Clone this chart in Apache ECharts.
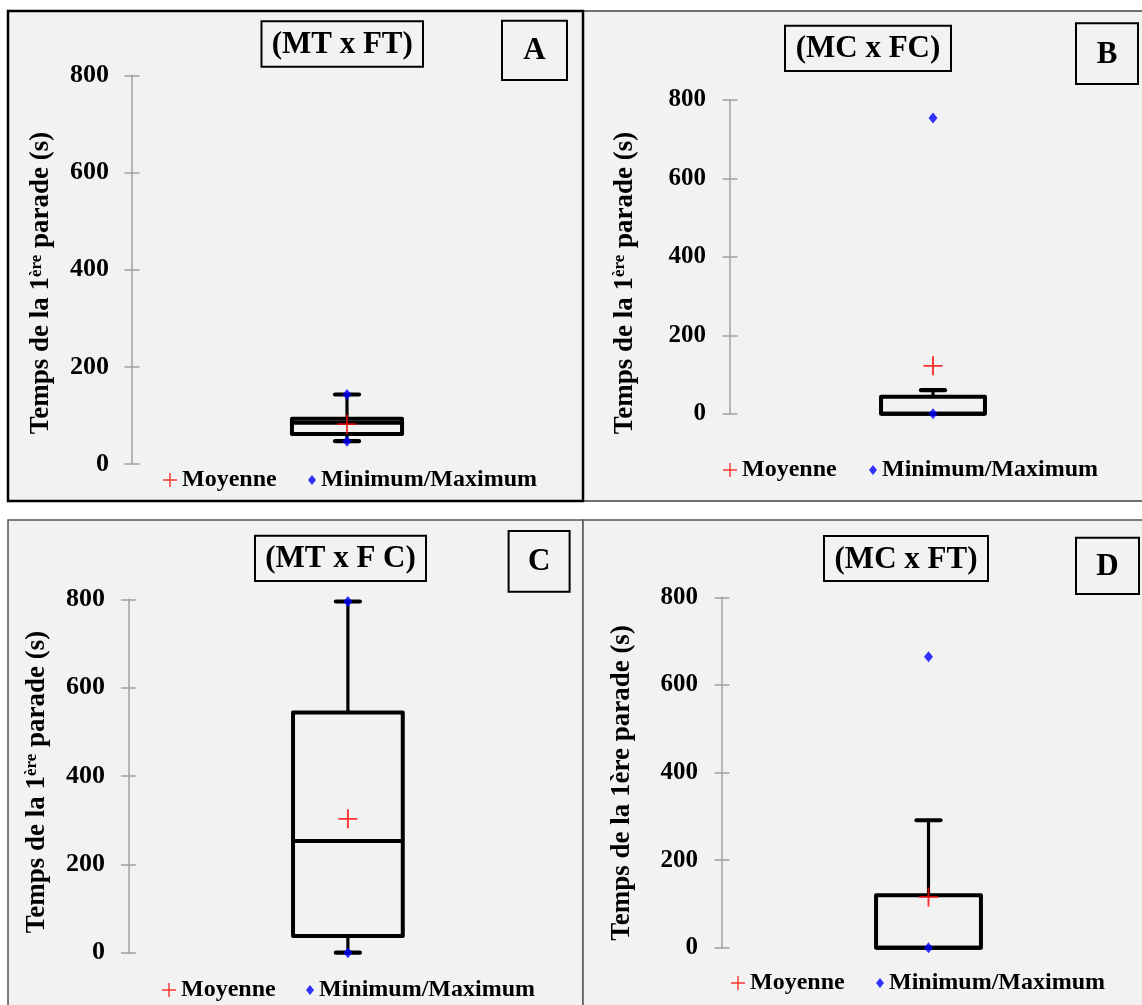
<!DOCTYPE html>
<html><head><meta charset="utf-8">
<script src="https://cdn.jsdelivr.net/npm/echarts@6/dist/echarts.min.js"></script>
<style>html,body{margin:0;padding:0;background:#fff}#c{width:1142px;height:1005px}</style>
</head><body><div id="c"></div>
<script>
// ---------- data ----------
const panelLetters = ['A', 'B', 'C', 'D'];
const panelTitles = ['(MT x FT)', '(MC x FC)', '(MT x F C)', '(MC x FT)'];
const yTickValues = [0, 200, 400, 600, 800];
// [lower whisker, Q1, median, Q3, upper whisker]
const boxA = [47, 62, 85, 93, 143];
const boxB = [0, 0, 0, 43, 60];
const boxC = [0, 38, 253, 544, 795];
const boxD = [0, 0, 0, 120, 291];
const meanA = 82, meanB = 122, meanC = 303, meanD = 116;
const minMaxA = [47, 143];
const minMaxB = [0, 754];
const minMaxC = [0, 795];
const minMaxD = [0, 664];
const legendNames = ['Moyenne', 'Minimum/Maximum'];
const axisTitleSup = 'Temps de la 1{sup|ère} parade (s)';
const axisTitlePlain = 'Temps de la 1ère parade (s)';

// ---------- layout / style ----------
const SERIF = '"Liberation Serif", "Times New Roman", serif';
const boxes = [boxA, boxB, boxC, boxD];
const means = [meanA, meanB, meanC, meanD];
const minMaxes = [minMaxA, minMaxB, minMaxC, minMaxD];
const P = [
  {grid: {left: 132, top: 75.3, width: 430, height: 388.7}, lab: 26, margin: 23, boxFrac: 0.256,
   name: {x: 41.5, y: 283, text: axisTitleSup},
   title: [261.5, 21.3, 161.5, 45.4], letter: [502, 20.7, 65, 59.3],
   leg1: [163, 468], leg2: [308, 468]},
  {grid: {left: 730, top: 100, width: 406, height: 313.7}, lab: 25, margin: 24, boxFrac: 0.256,
   name: {x: 625, y: 283, text: axisTitleSup},
   title: [785, 25.7, 166, 45.3], letter: [1076, 23.3, 62, 60.7],
   leg1: [723, 458], leg2: [869, 458]},
  {grid: {left: 128.4, top: 599.3, width: 439, height: 353.4}, lab: 26, margin: 23.5, boxFrac: 0.25,
   name: {x: 37, y: 782, text: axisTitleSup},
   title: [255, 535.7, 171, 45.3], letter: [508.6, 531, 61, 60.7],
   leg1: [162, 978], leg2: [306, 978]},
  {grid: {left: 722, top: 597.3, width: 413, height: 350.4}, lab: 25, margin: 24, boxFrac: 0.254,
   name: {x: 622, y: 783, text: axisTitlePlain},
   title: [824, 536, 164, 45], letter: [1076, 537.7, 63, 56.3],
   leg1: [731, 971], leg2: [876, 971]}
];
const PLUS = 'path://M9,0H11V9H20V11H11V20H9V11H0V9H9Z';

function renderBox(params, api) {
  const x = api.value(0);
  const lw = api.coord([x, api.value(1)]);
  const q1 = api.coord([x, api.value(2)]);
  const md = api.coord([x, api.value(3)]);
  const q3 = api.coord([x, api.value(4)]);
  const hw = api.coord([x, api.value(5)]);
  const frac = P[params.seriesIndex / 3 | 0].boxFrac;
  const half = api.size([1, 0])[0] * frac / 2;
  const cx = q1[0];
  const cap = 12;
  const line = (x1, y1, x2, y2, w, lc) => ({type: 'line', shape: {x1, y1, x2, y2},
    style: {stroke: '#000', lineWidth: w, lineCap: lc || 'butt'}});
  const ch = [];
  if (hw[1] < q3[1] - 0.5) {
    ch.push(line(cx, q3[1], cx, hw[1], 3.2));
    ch.push(line(cx - cap, hw[1], cx + cap, hw[1], 4.2, 'round'));
  }
  if (lw[1] > q1[1] + 0.5) {
    ch.push(line(cx, q1[1], cx, lw[1], 3.2));
    ch.push(line(cx - cap, lw[1], cx + cap, lw[1], 4.2, 'round'));
  }
  ch.push({type: 'rect', shape: {x: cx - half, y: q3[1], width: 2 * half, height: q1[1] - q3[1]},
    style: {stroke: '#000', lineWidth: 4, fill: null, lineJoin: 'round'}});
  ch.push(line(cx - half, md[1], cx + half, md[1], 4));
  return {type: 'group', children: ch};
}

const grids = [], xAxes = [], yAxes = [], series = [], legends = [], graphics = [];
const frameRects = [
  {x: 583, y: 11, w: 565, h: 490, stroke: '#444', lw: 1.5},
  {x: 8, y: 520, w: 575, h: 495, stroke: '#555', lw: 1.5},
  {x: 583, y: 520, w: 565, h: 495, stroke: '#555', lw: 1.5},
  {x: 8, y: 11, w: 575, h: 490, stroke: '#000', lw: 2.5}
];
frameRects.forEach(f => graphics.push({type: 'rect', z: -10, silent: true,
  shape: {x: f.x, y: f.y, width: f.w, height: f.h},
  style: {fill: '#f2f2f2', stroke: f.stroke, lineWidth: f.lw}}));

P.forEach((p, i) => {
  grids.push(Object.assign({containLabel: false}, p.grid));
  xAxes.push({type: 'category', gridIndex: i, data: [''], show: false, boundaryGap: true});
  const axisCommon = {type: 'value', gridIndex: i, min: yTickValues[0], max: yTickValues[yTickValues.length - 1],
    interval: yTickValues[1] - yTickValues[0], position: 'left', splitLine: {show: false}};
  yAxes.push(Object.assign({}, axisCommon, {
    axisLine: {show: true, lineStyle: {color: '#a0a0a0', width: 1.5}},
    axisTick: {show: true, length: 7.5, lineStyle: {color: '#a0a0a0', width: 1.5}},
    axisLabel: {fontFamily: SERIF, fontWeight: 'bold', fontSize: p.lab, color: '#000', margin: p.margin}
  }));
  yAxes.push(Object.assign({}, axisCommon, {
    axisLine: {show: false},
    axisTick: {show: true, inside: true, length: 7.5, lineStyle: {color: '#a0a0a0', width: 1.5}},
    axisLabel: {show: false}
  }));
  series.push({type: 'custom', name: 'box' + i, xAxisIndex: i, yAxisIndex: 2 * i, z: 2,
    renderItem: renderBox, encode: {x: 0, y: [1, 2, 3, 4, 5]},
    data: [[0].concat(boxes[i])]});
  series.push({type: 'scatter', name: legendNames[0], xAxisIndex: i, yAxisIndex: 2 * i, z: 4,
    symbol: PLUS, symbolSize: 19, itemStyle: {color: '#ff0000'},
    data: [[0, means[i]]]});
  series.push({type: 'scatter', name: legendNames[1], xAxisIndex: i, yAxisIndex: 2 * i, z: 5,
    symbol: 'diamond', symbolSize: [9, 11], itemStyle: {color: '#0000ff'},
    data: minMaxes[i].map(v => [0, v])});
  const legText = {fontFamily: SERIF, fontWeight: 'bold', fontSize: 24, color: '#000'};
  legends.push({left: p.leg1[0], top: p.leg1[1], padding: 0, itemWidth: 14, itemHeight: 14,
    selectedMode: false, textStyle: legText, data: [{name: legendNames[0], icon: PLUS}]});
  legends.push({left: p.leg2[0], top: p.leg2[1], padding: 0, itemWidth: 8, itemHeight: 10,
    selectedMode: false, textStyle: legText, data: [{name: legendNames[1], icon: 'diamond'}]});
  // title box
  graphics.push({type: 'rect', z: 10, shape: {x: p.title[0], y: p.title[1], width: p.title[2], height: p.title[3]},
    style: {fill: '#f2f2f2', stroke: '#000', lineWidth: 2}});
  graphics.push({type: 'text', z: 11, x: p.title[0] + p.title[2] / 2, y: p.title[1] + p.title[3] / 2 + 1,
    style: {text: panelTitles[i], fontFamily: SERIF, fontWeight: 'bold', fontSize: 31, fill: '#000',
      align: 'center', verticalAlign: 'middle'}});
  graphics.push({type: 'rect', z: 10, shape: {x: p.letter[0], y: p.letter[1], width: p.letter[2], height: p.letter[3]},
    style: {fill: '#f2f2f2', stroke: '#000', lineWidth: 2}});
  graphics.push({type: 'text', z: 11, x: p.letter[0] + p.letter[2] / 2, y: p.letter[1] + p.letter[3] / 2 + 1,
    style: {text: panelLetters[i], fontFamily: SERIF, fontWeight: 'bold', fontSize: 31, fill: '#000',
      align: 'center', verticalAlign: 'middle'}});
  // axis title
  graphics.push({type: 'text', z: 11, x: p.name.x, y: p.name.y, rotation: Math.PI / 2,
    style: {text: p.name.text, fontFamily: SERIF, fontWeight: 'bold', fontSize: 27, fill: '#000',
      align: 'center', verticalAlign: 'middle',
      rich: {sup: {fontFamily: SERIF, fontWeight: 'bold', fontSize: 17, fill: '#000', verticalAlign: 'top'}}}});
});

const chart = echarts.init(document.getElementById('c'), null, {renderer: 'canvas'});
chart.setOption({
  backgroundColor: '#ffffff',
  animation: false,
  grid: grids, xAxis: xAxes, yAxis: yAxes, series: series, legend: legends,
  graphic: {elements: graphics}
});
</script></body></html>
